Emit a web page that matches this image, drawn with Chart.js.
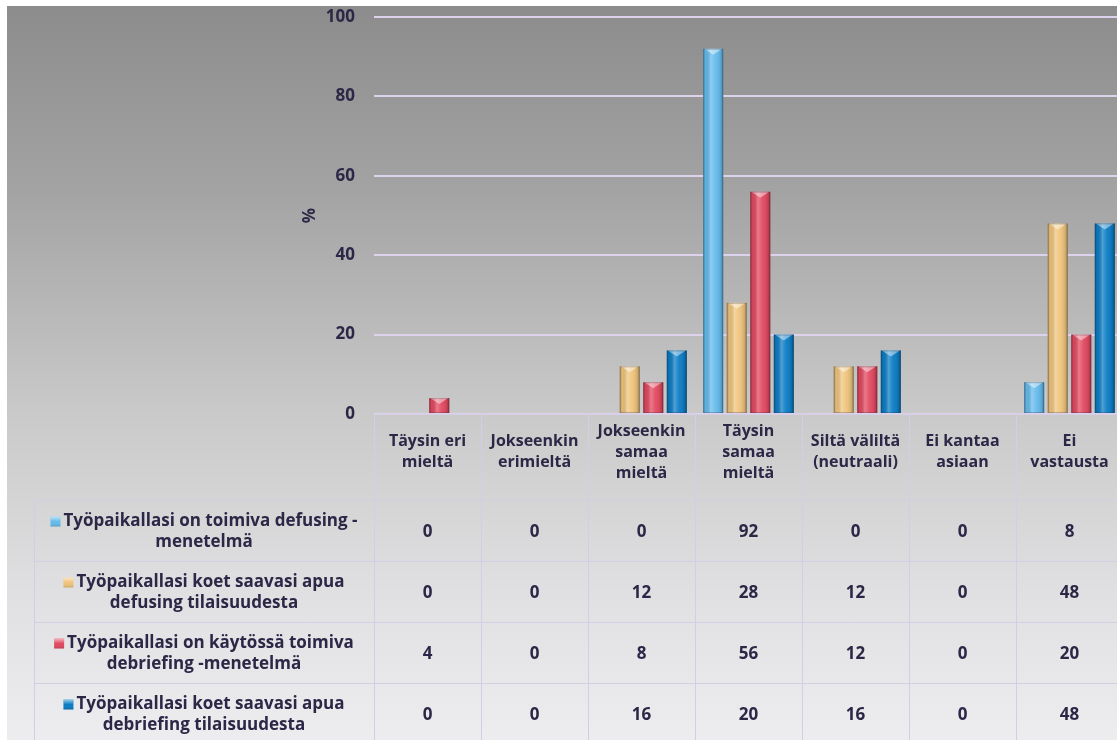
<!DOCTYPE html>
<html>
<head>
<meta charset="utf-8">
<script src="https://cdn.jsdelivr.net/npm/chart.js@4"></script>
<style>
  html, body { margin: 0; padding: 0; background: #ffffff; overflow: hidden; }
  #wrap { width: 1124px; height: 740px; position: relative; }
  canvas { display: block; }
</style>
</head>
<body>
<div id="wrap"><canvas id="chart" width="1124" height="740"></canvas></div>
<script>
// Vastausvaihtoehdot (sarakkeet) ja niiden rivitys taulukon otsikossa
const categories = [
  'Täysin eri mieltä', 'Jokseenkin erimieltä', 'Jokseenkin samaa mieltä',
  'Täysin samaa mieltä', 'Siltä väliltä (neutraali)', 'Ei kantaa asiaan', 'Ei vastausta'
];
const categoryLines = [
  ['Täysin eri', 'mieltä'],
  ['Jokseenkin', 'erimieltä'],
  ['Jokseenkin', 'samaa', 'mieltä'],
  ['Täysin', 'samaa', 'mieltä'],
  ['Siltä väliltä', '(neutraali)'],
  ['Ei kantaa', 'asiaan'],
  ['Ei', 'vastausta']
];

// Väittämät (sarjat)
const seriesLines = [
  ['Työpaikallasi on toimiva defusing -', 'menetelmä'],
  ['Työpaikallasi koet saavasi apua', 'defusing tilaisuudesta'],
  ['Työpaikallasi on käytössä toimiva', 'debriefing -menetelmä'],
  ['Työpaikallasi koet saavasi apua', 'debriefing tilaisuudesta']
];

// Osuudet prosentteina
const defusingToimiva   = [0, 0, 0, 92, 0, 0, 8];
const defusingApua      = [0, 0, 12, 28, 12, 0, 48];
const debriefingToimiva = [4, 0, 8, 56, 12, 0, 20];
const debriefingApua    = [0, 0, 16, 20, 16, 0, 48];

const yTicks = [0, 20, 40, 60, 80, 100];

const seriesValues = [defusingToimiva, defusingApua, debriefingToimiva, debriefingApua];
const seriesColors = ['#64bbec', '#efc47c', '#e2485f', '#0a7cc4'];

const TEXT = '#2c2746';
const FONT = '"Open Sans", Lato, sans-serif';

// Harmaa liukuväritausta
const backgroundPlugin = {
  id: 'panelBackground',
  beforeDraw(chart) {
    const { ctx, width, height } = chart;
    ctx.save();
    ctx.fillStyle = '#ffffff';
    ctx.fillRect(0, 0, width, height);
    const g = ctx.createLinearGradient(0, 6, 0, height);
    g.addColorStop(0, '#8c8c8c');
    g.addColorStop(0.25, '#a3a3a3');
    g.addColorStop(0.55, '#c9c9c9');
    g.addColorStop(0.8, '#e0e0e2');
    g.addColorStop(1, '#ededf0');
    ctx.fillStyle = g;
    ctx.fillRect(7, 6, width - 7, height - 6);
    ctx.restore();
  }
};

// Pylväiden lieriömäinen varjostus ja viistetty yläpää
const barShadePlugin = {
  id: 'barShade',
  afterDatasetsDraw(chart) {
    const { ctx } = chart;
    ctx.save();
    chart.data.datasets.forEach((ds, di) => {
      const meta = chart.getDatasetMeta(di);
      meta.data.forEach((el) => {
        const p = el.getProps(['x', 'y', 'base', 'width'], true);
        const h = p.base - p.y;
        if (h < 0.5) return;
        const l = p.x - p.width / 2, r = p.x + p.width / 2;
        const g = ctx.createLinearGradient(l, 0, r, 0);
        g.addColorStop(0, 'rgba(0,0,0,0.28)');
        g.addColorStop(0.12, 'rgba(0,0,0,0.05)');
        g.addColorStop(0.38, 'rgba(255,255,255,0.28)');
        g.addColorStop(0.62, 'rgba(255,255,255,0.05)');
        g.addColorStop(0.88, 'rgba(0,0,0,0.12)');
        g.addColorStop(1, 'rgba(0,0,0,0.35)');
        ctx.fillStyle = g;
        ctx.fillRect(l, p.y, p.width, h);
        // yläpään viiste
        const cap = Math.min(6, h);
        ctx.beginPath();
        ctx.moveTo(l + 1, p.y);
        ctx.lineTo(r - 1, p.y);
        ctx.lineTo(p.x, p.y + cap);
        ctx.closePath();
        ctx.fillStyle = 'rgba(255,255,255,0.45)';
        ctx.fill();
        ctx.strokeStyle = 'rgba(40,40,60,0.25)';
        ctx.lineWidth = 1;
        ctx.strokeRect(l + 0.5, p.y + 0.5, p.width - 1, h - 1);
      });
    });
    ctx.restore();
  }
};

// Arvotaulukko kaavion alla
const dataTablePlugin = {
  id: 'dataTable',
  afterDraw(chart) {
    const { ctx, chartArea, scales } = chart;
    const x = scales.x;
    const n = categories.length;
    const colW = (chartArea.right - chartArea.left) / n;
    const top = chartArea.bottom;
    const headerBottom = top + 86;
    const rowH = 61;
    const labelLeft = 34;
    const labelRight = chartArea.left;
    const bottom = headerBottom + rowH * seriesValues.length + 4;

    ctx.save();
    ctx.strokeStyle = '#d5cce6';
    ctx.lineWidth = 1;
    ctx.beginPath();
    // otsikkorivin yläreuna
    ctx.moveTo(chartArea.left, Math.round(top) + 0.5);
    ctx.lineTo(chart.width, Math.round(top) + 0.5);
    // rivien rajat
    for (let i = 0; i <= seriesValues.length; i++) {
      const yy = Math.round(headerBottom + i * rowH) + 0.5;
      ctx.moveTo(labelLeft, yy);
      ctx.lineTo(chart.width, yy);
    }
    // sarakkeiden rajat
    for (let i = 0; i <= n; i++) {
      const xx = Math.round(chartArea.left + i * colW) + 0.5;
      ctx.moveTo(xx, top);
      ctx.lineTo(xx, bottom);
    }
    ctx.moveTo(labelLeft + 0.5, headerBottom);
    ctx.lineTo(labelLeft + 0.5, bottom);
    ctx.stroke();

    ctx.fillStyle = TEXT;
    ctx.textAlign = 'center';
    ctx.textBaseline = 'middle';

    // sarakeotsikot
    ctx.font = 'bold 16px ' + FONT;
    const headMid = top + 38;
    categoryLines.forEach((lines, i) => {
      const cx = x.getPixelForValue(i);
      const lh = 21;
      const y0 = headMid - (lines.length - 1) * lh / 2;
      lines.forEach((t, k) => ctx.fillText(t, cx, y0 + k * lh));
    });

    // rivit
    ctx.font = 'bold 17px ' + FONT;
    seriesValues.forEach((vals, r) => {
      const rowTop = headerBottom + r * rowH;
      const mid = rowTop + rowH / 2;
      // arvot
      vals.forEach((v, i) => {
        ctx.fillText(String(v), x.getPixelForValue(i), mid + 2);
      });
      // selite + nimi
      const lines = seriesLines[r];
      const cx = (labelLeft + labelRight) / 2;
      const keyW = 10, gap = 3;
      const w1 = ctx.measureText(lines[0]).width + keyW + gap;
      const start = cx - w1 / 2;
      const y1 = mid - 9, y2 = mid + 12;
      // selitteen neliö
      const kg = ctx.createLinearGradient(0, y1 - 5, 0, y1 + 5);
      kg.addColorStop(0, 'rgba(255,255,255,0.6)');
      kg.addColorStop(0.5, 'rgba(255,255,255,0)');
      kg.addColorStop(1, 'rgba(0,0,0,0.15)');
      ctx.fillStyle = seriesColors[r];
      ctx.fillRect(start, y1 - 5, keyW, 10);
      ctx.fillStyle = kg;
      ctx.fillRect(start, y1 - 5, keyW, 10);
      ctx.fillStyle = TEXT;
      ctx.textAlign = 'left';
      ctx.fillText(lines[0], start + keyW + gap, y1);
      ctx.textAlign = 'center';
      ctx.fillText(lines[1], cx, y2);
    });
    ctx.restore();
  }
};

const chart = new Chart(document.getElementById('chart'), {
  type: 'bar',
  data: {
    labels: categories,
    datasets: seriesValues.map((vals, i) => ({
      label: seriesLines[i].join(' '),
      data: vals,
      backgroundColor: seriesColors[i],
      borderWidth: 0,
      categoryPercentage: 0.88,
      barPercentage: 0.85
    }))
  },
  options: {
    responsive: false,
    animation: false,
    devicePixelRatio: 1,
    layout: { padding: { left: 300, right: 1, top: 17, bottom: 326 } },
    plugins: {
      legend: { display: false },
      tooltip: { enabled: false },
      title: { display: false }
    },
    scales: {
      x: { display: false },
      y: {
        min: 0,
        max: 100,
        afterFit(scale) {
          scale.width = 74;
          scale.paddingTop = 0;
          scale.paddingBottom = 0;
        },
        afterBuildTicks(scale) { scale.ticks = yTicks.map(v => ({ value: v })); },
        border: { display: false },
        grid: { color: '#ddd2ec', lineWidth: 2, drawTicks: false },
        ticks: {
          padding: 19,
          color: TEXT,
          font: { family: FONT, size: 17, weight: 'bold' }
        },
        title: {
          display: true,
          text: '%',
          color: TEXT,
          padding: { top: 0, bottom: 0 },
          font: { family: FONT, size: 17, weight: 'bold' }
        }
      }
    }
  },
  plugins: [backgroundPlugin, barShadePlugin, dataTablePlugin]
});
</script>
</body>
</html>
